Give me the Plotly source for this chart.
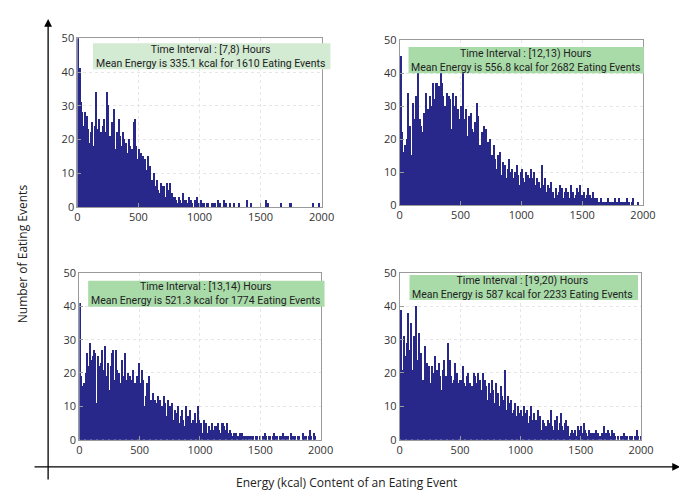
import numpy as np
import plotly.graph_objects as go

BIN_WIDTH = 10

# Histogram counts (bin width 10 kcal, 0-2000 kcal)
counts_7_8 = [
    50, 39, 41, 31, 28, 24, 28, 20, 27, 23,
    19, 22, 25, 18, 24, 34, 21, 23, 26, 22,
    19, 24, 26, 22, 34, 30, 17, 21, 25, 23,
    29, 17, 22, 20, 26, 21, 18, 22, 20, 15,
    19, 16, 20, 18, 12, 17, 25, 26, 18, 14,
    17, 12, 16, 10, 15, 14, 11, 8, 15, 12,
    5, 8, 5, 10, 6, 8, 5, 4, 7, 6,
    4, 6, 3, 7, 5, 2, 7, 4, 3, 2,
    3, 2, 1, 3, 2, 1, 4, 2, 1, 2,
    1, 3, 1, 2, 1, 0, 2, 1, 3, 1,
    1, 2, 0, 1, 1, 0, 1, 1, 0, 0,
    1, 0, 1, 1, 0, 2, 0, 1, 0, 0,
    2, 0, 1, 0, 0, 1, 0, 0, 1, 0,
    0, 0, 1, 0, 0, 0, 0, 0, 0, 2,
    0, 0, 1, 0, 0, 0, 0, 0, 0, 0,
    0, 0, 0, 0, 2, 0, 1, 0, 0, 0,
    0, 0, 0, 0, 0, 0, 0, 1, 0, 0,
    0, 0, 0, 0, 1, 1, 0, 0, 0, 0,
    0, 0, 0, 0, 0, 0, 0, 0, 0, 0,
    0, 0, 0, 1, 0, 0, 0, 0, 1, 0,
]

counts_12_13 = [
    45, 22, 13, 16, 18, 20, 34, 14, 24, 15,
    31, 15, 26, 33, 40, 21, 26, 24, 22, 28,
    25, 34, 27, 29, 33, 30, 29, 37, 32, 37,
    37, 34, 36, 40, 37, 33, 29, 30, 34, 29,
    33, 32, 23, 34, 28, 30, 33, 29, 26, 25,
    30, 40, 26, 24, 29, 21, 27, 25, 28, 23,
    22, 25, 21, 31, 27, 18, 16, 22, 21, 24,
    23, 15, 19, 14, 20, 15, 12, 18, 14, 11,
    15, 12, 16, 9, 13, 10, 12, 8, 11, 14,
    10, 9, 11, 8, 10, 7, 12, 9, 6, 10,
    11, 8, 7, 10, 6, 9, 8, 11, 7, 8,
    10, 6, 8, 5, 7, 5, 12, 6, 5, 8,
    4, 6, 3, 5, 7, 4, 2, 1, 5, 3,
    4, 6, 3, 5, 2, 4, 5, 3, 4, 2,
    6, 3, 4, 2, 3, 5, 4, 2, 6, 3,
    3, 4, 2, 3, 5, 2, 3, 2, 4, 1,
    2, 1, 2, 1, 1, 2, 1, 1, 0, 1,
    1, 2, 1, 0, 1, 1, 2, 1, 1, 1,
    2, 1, 1, 1, 0, 1, 2, 1, 1, 0,
    1, 2, 0, 0, 0, 1, 0, 0, 0, 0,
]

counts_13_14 = [
    41, 19, 16, 13, 17, 20, 26, 22, 14, 29,
    24, 25, 27, 26, 11, 25, 22, 18, 23, 27,
    21, 28, 17, 19, 23, 15, 22, 26, 27, 18,
    27, 21, 14, 20, 17, 24, 15, 19, 26, 18,
    20, 16, 19, 18, 21, 14, 17, 13, 19, 23,
    17, 15, 21, 18, 10, 13, 17, 16, 19, 12,
    9, 14, 10, 12, 11, 13, 8, 12, 10, 9,
    13, 11, 7, 12, 9, 10, 8, 11, 6, 9,
    8, 6, 10, 5, 7, 9, 6, 4, 10, 6,
    7, 6, 9, 5, 6, 4, 8, 5, 10, 6,
    4, 5, 2, 6, 3, 5, 2, 4, 3, 2,
    5, 3, 4, 2, 4, 5, 3, 2, 5, 5,
    4, 3, 5, 2, 1, 3, 2, 1, 2, 1,
    2, 1, 1, 2, 1, 2, 1, 1, 0, 1,
    1, 1, 0, 1, 1, 0, 1, 1, 0, 0,
    1, 0, 1, 0, 2, 1, 0, 1, 1, 0,
    1, 2, 1, 0, 1, 0, 1, 1, 0, 2,
    1, 1, 0, 1, 0, 2, 1, 0, 1, 1,
    0, 1, 1, 0, 0, 2, 1, 0, 1, 0,
    1, 3, 1, 0, 2, 1, 0, 0, 0, 0,
]

counts_19_20 = [
    39, 21, 21, 31, 25, 29, 38, 15, 27, 35,
    21, 31, 28, 40, 24, 32, 16, 26, 17, 18,
    28, 21, 23, 18, 22, 17, 22, 20, 16, 25,
    21, 17, 23, 19, 15, 21, 24, 18, 19, 29,
    22, 24, 19, 17, 18, 23, 16, 20, 17, 18,
    18, 15, 22, 17, 16, 19, 20, 9, 17, 16,
    14, 20, 19, 17, 20, 12, 18, 15, 20, 14,
    18, 16, 12, 17, 14, 13, 18, 15, 11, 17,
    12, 14, 10, 16, 13, 11, 12, 21, 9, 13,
    11, 10, 12, 8, 9, 11, 7, 10, 8, 6,
    9, 7, 10, 6, 8, 9, 5, 7, 10, 6,
    5, 8, 6, 4, 9, 5, 7, 3, 6, 5,
    2, 4, 6, 3, 5, 9, 4, 3, 6, 4,
    7, 3, 5, 8, 4, 3, 5, 6, 2, 4,
    1, 2, 3, 1, 2, 3, 1, 4, 2, 3,
    4, 2, 5, 3, 2, 1, 3, 2, 1, 2,
    2, 1, 3, 1, 2, 1, 0, 2, 1, 4,
    2, 1, 3, 2, 1, 3, 2, 2, 1, 0,
    1, 0, 0, 1, 1, 2, 1, 1, 1, 0,
    1, 1, 1, 0, 1, 1, 3, 1, 0, 1,
]

intervals = ["[7,8)", "[12,13)", "[13,14)", "[19,20)"]
mean_energy = ["335.1", "556.8", "521.3", "587"]
n_events = ["1610", "2682", "1774", "2233"]
all_counts = [counts_7_8, counts_12_13, counts_13_14, counts_19_20]

x_ticks = [0, 500, 1000, 1500, 2000]
y_ticks = [0, 10, 20, 30, 40, 50]

W, H = 687, 493
# panel pixel boxes: (left, right, top, bottom)
boxes = [(68, 318, 23, 197), (398, 647, 25, 195), (70, 317, 265, 437), (398, 645, 265, 437)]
# label box pixel rects: (x0, x1, y0, y1)
label_boxes = [(84, 327, 28, 55), (407, 648, 32, 59), (79, 321, 273, 300), (408, 642, 267, 293)]
label_colors = ["#d3ead3", "#a9dba9", "#a9dba9", "#a9dba9"]

BAR_COLOR = "#27288a"
FONT = "Open Sans"
BOX_FONT = "Roboto"

fig = go.Figure()

for i, counts in enumerate(all_counts):
    centers = np.arange(len(counts)) * BIN_WIDTH + BIN_WIDTH / 2
    ax_id = "" if i == 0 else str(i + 1)
    fig.add_trace(go.Bar(
        x=centers, y=counts, width=BIN_WIDTH,
        marker=dict(color=BAR_COLOR, line=dict(width=0)),
        xaxis="x" + ax_id, yaxis="y" + ax_id, showlegend=False,
    ))
    l, r, t, b = boxes[i]
    common = dict(showline=True, mirror=True, linecolor="#9a9a9a", linewidth=1,
                  ticks="inside", ticklen=4, tickcolor="#9a9a9a",
                  showgrid=True, gridcolor="#e6e6e6", griddash="dot", gridwidth=1,
                  zeroline=False, tickfont=dict(family=FONT, size=11, color="#333333"))
    fig.update_layout(**{
        "xaxis" + ax_id: dict(domain=[l / W, r / W], range=[0, 2000], tickvals=x_ticks,
                              anchor="y" + ax_id, **common),
        "yaxis" + ax_id: dict(domain=[1 - b / H, 1 - t / H], range=[0, 50], tickvals=y_ticks,
                              anchor="x" + ax_id, **common),
    })
    x0, x1, y0, y1 = label_boxes[i]
    fig.add_shape(type="rect", xref="paper", yref="paper",
                  x0=x0 / W, x1=x1 / W, y0=1 - y1 / H, y1=1 - y0 / H,
                  fillcolor=label_colors[i], line=dict(width=0), layer="above")
    h = y1 - y0
    fig.add_annotation(xref="paper", yref="paper", x=(x0 + 2) / W, y=1 - (y0 + h * 0.5) / H,
                       text=(f"Time Interval : {intervals[i]} Hours<br>"
                             f"Mean Energy is {mean_energy[i]} kcal for {n_events[i]} Eating Events"),
                       showarrow=False, xanchor="left", yanchor="middle", align="center",
                       borderpad=0,
                       font=dict(family=BOX_FONT, size=10.5, color="#222222"))

# big axis arrows
fig.add_annotation(xref="paper", yref="paper", x=38 / W, y=1 - 3 / H, ax=0, ay=462,
                   text="", showarrow=True, arrowhead=2, arrowsize=1.2, arrowwidth=1.3,
                   arrowcolor="black")
fig.add_annotation(xref="paper", yref="paper", x=685 / W, y=1 - 465 / H, ax=-647, ay=0,
                   text="", showarrow=True, arrowhead=2, arrowsize=1.2, arrowwidth=1.3,
                   arrowcolor="black")

fig.add_annotation(xref="paper", yref="paper", x=12 / W, y=1 - 245 / H, text="Number of Eating Events",
                   showarrow=False, textangle=-90, xanchor="center", yanchor="middle",
                   font=dict(family=FONT, size=12, color="#222222"))
fig.add_annotation(xref="paper", yref="paper", x=343 / W, y=1 - 481 / H,
                   text="Energy (kcal) Content of an Eating Event",
                   showarrow=False, xanchor="center", yanchor="middle",
                   font=dict(family=FONT, size=12, color="#222222"))

fig.update_layout(width=W, height=H, autosize=False, margin=dict(l=0, r=0, t=0, b=0),
                  plot_bgcolor="white", paper_bgcolor="white", bargap=0)

fig.write_html("out.html")
